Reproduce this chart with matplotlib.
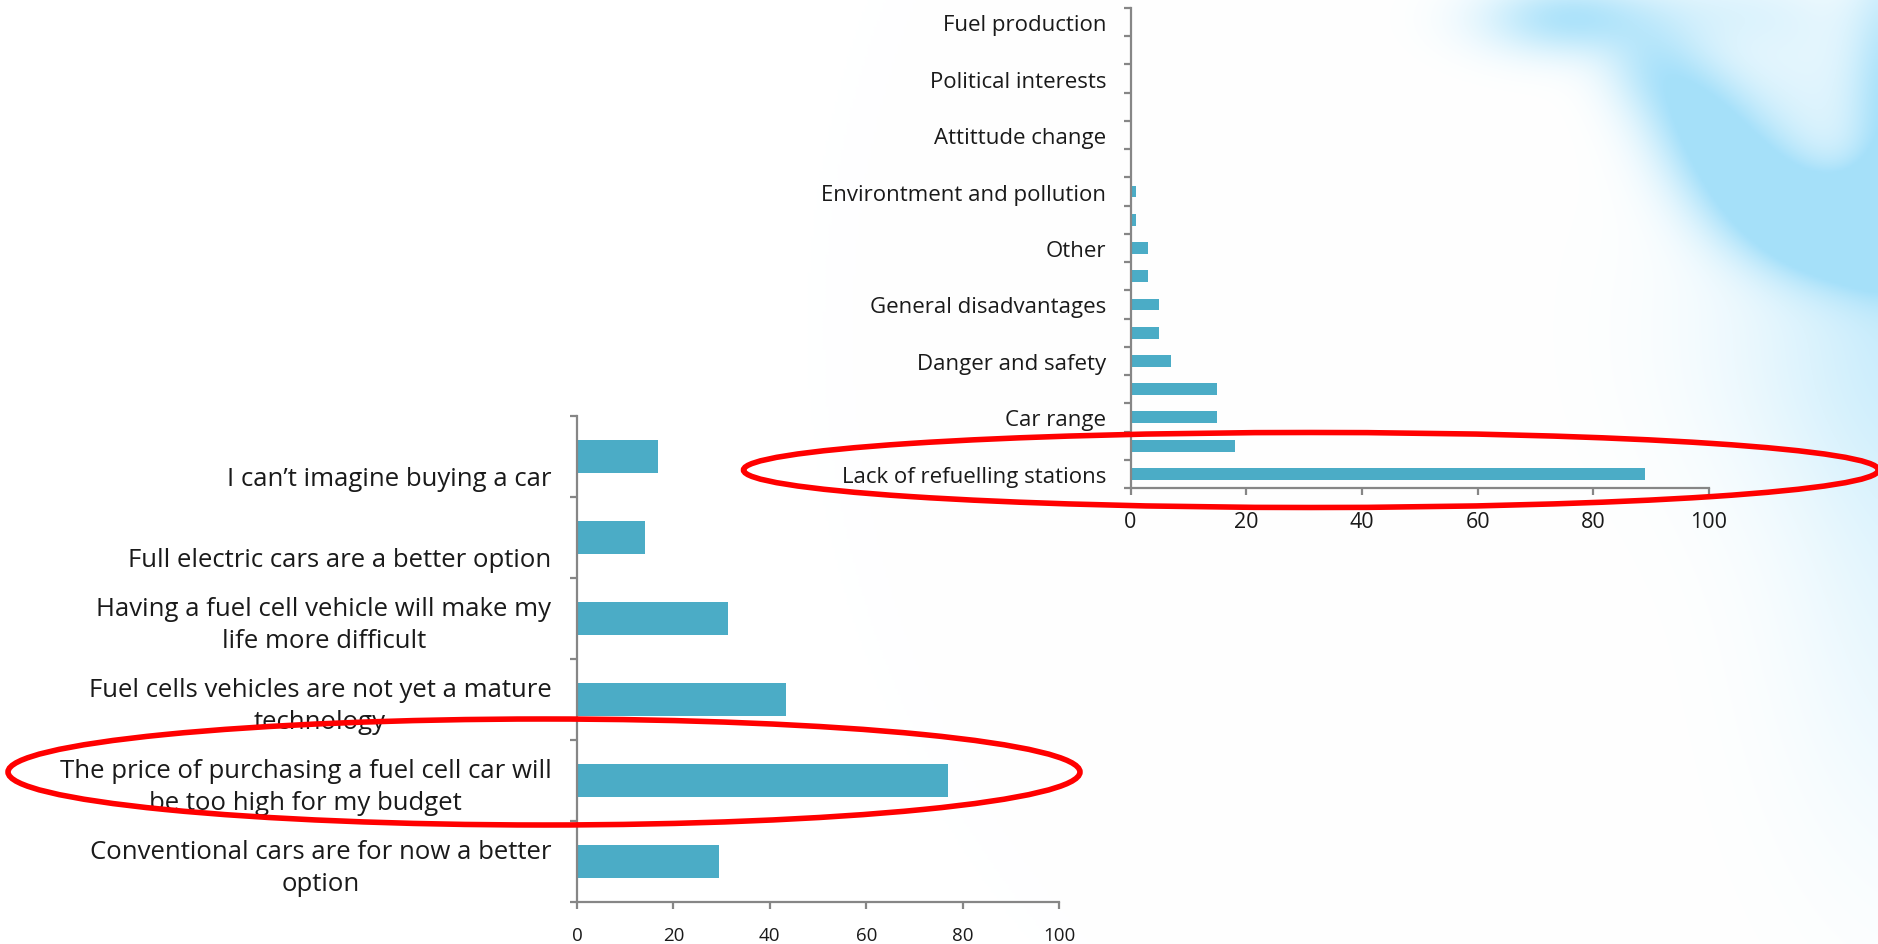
import matplotlib.pyplot as plt
import matplotlib.transforms as mtransforms
import numpy as np
from matplotlib.patches import Ellipse
from matplotlib.ticker import FixedLocator

W, H, DPI = 1878, 945, 100

BAR = "#4bacc6"
AXIS = "#868686"
INK = "#1a1a1a"
FONT = "Open Sans"

# barriers to buying a fuel cell car, bottom to top (only every other one is labelled)
barrier_labels = [
    "Lack of refuelling stations", "", "Car range", "", "Danger and safety", "",
    "General disadvantages", "", "Other", "", "Environtment and pollution", "",
    "Attittude change", "", "Political interests", "", "Fuel production",
]
barrier_values = [89, 18, 15, 15, 7, 5, 5, 3, 3, 1, 1, 0, 0, 0, 0, 0, 0]

# reasons for not buying, bottom to top
reason_labels = [
    "Conventional cars are for now a better\noption",
    "The price of purchasing a fuel cell car will\nbe too high for my budget",
    "Fuel cells vehicles are not yet a mature\ntechnology",
    "Having a fuel cell vehicle will make my\nlife more difficult",
    "Full electric cars are a better option",
    "I can\u2019t imagine buying a car",
]
reason_values = [29.5, 77.0, 43.3, 31.4, 14.1, 16.9]

x_ticks = [0, 20, 40, 60, 80, 100]

# soft blue shapes of the slide background: (x, y, sx, sy, strength) in pixels
BLOBS = [
    (1565, 18, 60, 26, 0.85),
    (1650, 65, 35, 30, 0.5),
    (1685, 100, 38, 35, 0.6),
    (1712, 142, 40, 38, 0.7),
    (1748, 185, 42, 38, 0.8),
    (1798, 220, 45, 35, 0.9),
    (1850, 235, 45, 35, 1.0),
    (1892, 220, 35, 40, 0.9),
    (1892, 100, 30, 100, 0.85),
    (1800, 90, 60, 60, 0.25),
    (1720, 10, 80, 30, 0.3),
    (1900, 330, 130, 120, 0.4),
    (1930, 560, 100, 200, 0.3),
]


def background(fig):
    yy, xx = np.mgrid[0:H:3, 0:W:3].astype(float)
    a = np.zeros_like(xx)
    for cx, cy, sx, sy, amp in BLOBS:
        a += amp * np.exp(-0.5 * ((xx - cx) / sx) ** 2 - 0.5 * ((yy - cy) / sy) ** 2)
    a = np.clip(a, 0, 1)[..., None]
    blue = np.array([0.65, 0.88, 0.98])
    img = 1 - a * (1 - blue)
    ax = fig.add_axes([0, 0, 1, 1], zorder=-5)
    ax.imshow(img, extent=(0, W, H, 0), interpolation="bilinear", aspect="auto")
    ax.axis("off")


def style_axes(ax, n, label_size, tick_size, pad, xpad):
    ax.set_facecolor("none")
    for side in ("top", "right"):
        ax.spines[side].set_visible(False)
    for side in ("left", "bottom"):
        ax.spines[side].set_color(AXIS)
        ax.spines[side].set_linewidth(1.6)
    ax.set_xlim(0, 100)
    ax.set_ylim(-0.5, n - 0.5)
    ax.set_xticks(x_ticks)
    ax.yaxis.set_minor_locator(FixedLocator(np.arange(n + 1) - 0.5))
    ax.tick_params(axis="y", which="major", length=0, pad=pad, labelsize=label_size,
                   labelcolor=INK)
    ax.tick_params(axis="y", which="minor", length=5, width=1.6, color=AXIS)
    ax.tick_params(axis="x", length=5, width=1.6, color=AXIS, pad=xpad,
                   labelsize=tick_size, labelcolor=INK)


fig = plt.figure(figsize=(W / DPI, H / DPI), dpi=DPI)
fig.patch.set_facecolor("white")
plt.rcParams["font.family"] = [FONT, "DejaVu Sans"]
background(fig)

# top chart: barriers
ax1 = fig.add_axes([1130.5 / W, 1 - 489 / H, 578.5 / W, 480 / H])
y1 = np.arange(len(barrier_values))
ax1.barh(y1, barrier_values, height=0.42, color=BAR)
style_axes(ax1, len(barrier_values), 16, 15.5, 17.5, 11.5)
ax1.set_yticks(y1)
ax1.set_yticklabels(barrier_labels)

# bottom chart: reasons; one-line labels sit on the second line like the wrapped ones
ax2 = fig.add_axes([577 / W, 1 - 903 / H, 482 / W, 486 / H])
y2 = np.arange(len(reason_values))
ax2.barh(y2, reason_values, height=0.4, color=BAR)
style_axes(ax2, len(reason_values), 18.5, 13.5, 18.5, 12.5)
ax2.set_yticks(y2)
ax2.set_yticklabels([s if "\n" in s else "\n" + s for s in reason_labels],
                    multialignment="center", va="center", linespacing=1.4)
shift = mtransforms.ScaledTranslation(0, -6 / DPI, fig.dpi_scale_trans)
for lab in ax2.get_yticklabels():
    lab.set_transform(lab.get_transform() + shift)

# red highlights
ov = fig.add_axes([0, 0, 1, 1], zorder=10)
ov.set_xlim(0, W)
ov.set_ylim(H, 0)
ov.axis("off")
ov.add_patch(Ellipse((1311, 471), 1135, 75, fill=False, edgecolor="red", linewidth=4))
ov.add_patch(Ellipse((544, 773), 1072, 106, fill=False, edgecolor="red", linewidth=4))

fig.savefig("out.png", dpi=DPI, facecolor="white")
